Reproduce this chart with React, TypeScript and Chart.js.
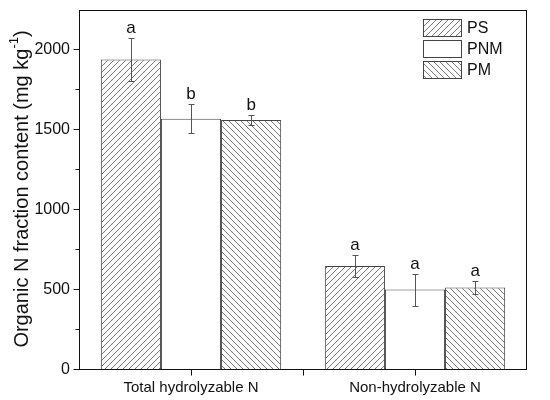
import React, { useEffect, useRef } from "react";
import { Chart, registerables } from "chart.js";
Chart.register(...registerables);

const categories = ["Total hydrolyzable N", "Non-hydrolyzable N"];
const seriesNames = ["PS", "PNM", "PM"];
const psValues = [1940, 650];
const pnmValues = [1570, 503];
const pmValues = [1563, 515];
const psErrors = [135, 70];
const pnmErrors = [90, 100];
const pmErrors = [32, 43];
const psLetters = ["a", "a"];
const pnmLetters = ["b", "a"];
const pmLetters = ["b", "a"];
const yMajorTicks = [0, 500, 1000, 1500, 2000];
const yMinorTicks = [250, 750, 1250, 1750];
const yMax = 2250;

const FONT = "'Liberation Sans', Arial, sans-serif";

function makeHatch(dir: "fwd" | "back" | "none") {
  const s = 6;
  const c = document.createElement("canvas");
  c.width = s;
  c.height = s;
  const g = c.getContext("2d")!;
  g.fillStyle = "#ffffff";
  g.fillRect(0, 0, s, s);
  if (dir !== "none") {
    g.strokeStyle = "#777777";
    g.lineWidth = 1;
    g.beginPath();
    if (dir === "fwd") {
      g.moveTo(-1, s + 1); g.lineTo(s + 1, -1);
      g.moveTo(-1, 1); g.lineTo(1, -1);
      g.moveTo(s - 1, s + 1); g.lineTo(s + 1, s - 1);
    } else {
      g.moveTo(-1, -1); g.lineTo(s + 1, s + 1);
      g.moveTo(s - 1, -1); g.lineTo(s + 1, 1);
      g.moveTo(-1, s - 1); g.lineTo(1, s + 1);
    }
    g.stroke();
  }
  return g.createPattern(c, "repeat")!;
}

function zeroPad(axis: any) {
  axis.paddingTop = 0;
  axis.paddingBottom = 0;
  axis.paddingLeft = 0;
  axis.paddingRight = 0;
}

export default function App() {
  const ref = useRef<HTMLCanvasElement>(null);
  useEffect(() => {
    document.body.style.margin = "0";
    const canvas = ref.current!;
    const values = [psValues, pnmValues, pmValues];
    const errors = [psErrors, pnmErrors, pmErrors];
    const letters = [psLetters, pnmLetters, pmLetters];
    const patterns = [makeHatch("fwd"), makeHatch("none"), makeHatch("back")];

    const customPlugin = {
      id: "custom",
      afterDatasetsDraw(chart: any) {
        const ctx: CanvasRenderingContext2D = chart.ctx;
        const { left, right, top, bottom } = chart.chartArea;
        const ys = chart.scales.y;
        const xs = chart.scales.x;
        ctx.save();
        // error bars + letters
        values.forEach((vals, di) => {
          const meta = chart.getDatasetMeta(di);
          meta.data.forEach((bar: any, i: number) => {
            const cx = Math.round(bar.x) + 0.5;
            const yt = Math.round(ys.getPixelForValue(vals[i] + errors[di][i])) + 0.5;
            const yb = Math.round(ys.getPixelForValue(vals[i] - errors[di][i])) + 0.5;
            ctx.strokeStyle = "#555";
            ctx.lineWidth = 1;
            ctx.beginPath();
            ctx.moveTo(cx, yt); ctx.lineTo(cx, yb);
            ctx.moveTo(cx - 3, yt); ctx.lineTo(cx + 3, yt);
            ctx.moveTo(cx - 3, yb); ctx.lineTo(cx + 3, yb);
            ctx.stroke();
            ctx.fillStyle = "#111";
            ctx.font = `17px ${FONT}`;
            ctx.textAlign = "center";
            ctx.textBaseline = "alphabetic";
            ctx.fillText(letters[di][i], bar.x, yt - 6);
          });
        });
        // frame
        ctx.strokeStyle = "#111";
        ctx.lineWidth = 1;
        const L = Math.round(left) + 0.5, R = Math.round(right) - 0.5;
        const T = Math.round(top) + 0.5, B = Math.round(bottom) - 0.5;
        ctx.strokeRect(L, T, R - L, B - T);
        // y ticks
        ctx.beginPath();
        yMajorTicks.forEach((v) => {
          const py = Math.round(ys.getPixelForValue(v)) - 0.5;
          ctx.moveTo(L - 6, py); ctx.lineTo(L, py);
        });
        yMinorTicks.forEach((v) => {
          const py = Math.round(ys.getPixelForValue(v)) - 0.5;
          ctx.moveTo(L - 4, py); ctx.lineTo(L, py);
        });
        // x ticks at category centers and boundary
        const n = categories.length;
        for (let i = 0; i < n; i++) {
          const px = Math.round(xs.getPixelForValue(i)) + 0.5;
          ctx.moveTo(px, B); ctx.lineTo(px, B + 6);
        }
        for (let i = 0; i < n - 1; i++) {
          const px = Math.round((xs.getPixelForValue(i) + xs.getPixelForValue(i + 1)) / 2) + 0.5;
          ctx.moveTo(px, B); ctx.lineTo(px, B + 6);
        }
        ctx.stroke();
        // legend
        seriesNames.forEach((name, di) => {
          const bx = 423, by = 19 + di * 21, bw = 38, bh = 17;
          ctx.fillStyle = patterns[di];
          ctx.fillRect(bx, by, bw, bh);
          ctx.strokeStyle = "#444";
          ctx.strokeRect(bx + 0.5, by + 0.5, bw, bh);
          ctx.fillStyle = "#111";
          ctx.font = `16px ${FONT}`;
          ctx.textAlign = "left";
          ctx.textBaseline = "middle";
          ctx.fillText(name, 467, by + bh / 2 + 1);
        });
        // y title
        ctx.translate(28, (top + bottom) / 2 - 1);
        ctx.rotate(-Math.PI / 2);
        ctx.textBaseline = "alphabetic";
        ctx.textAlign = "left";
        const main = "Organic N fraction content (mg kg";
        const sup = "-1";
        const end = ")";
        ctx.font = `20px ${FONT}`;
        const w1 = ctx.measureText(main).width;
        const w3 = ctx.measureText(end).width;
        ctx.font = `13px ${FONT}`;
        const w2 = ctx.measureText(sup).width;
        const total = w1 + w2 + w3;
        let u = -total / 2;
        ctx.fillStyle = "#111";
        ctx.font = `20px ${FONT}`;
        ctx.fillText(main, u, 0);
        u += w1;
        ctx.font = `13px ${FONT}`;
        ctx.fillText(sup, u, -10);
        u += w2;
        ctx.font = `20px ${FONT}`;
        ctx.fillText(end, u, 0);
        ctx.restore();
      },
    };

    const chart = new Chart(canvas, {
      type: "bar",
      data: {
        labels: categories,
        datasets: seriesNames.map((name, di) => ({
          label: name,
          data: values[di],
          backgroundColor: patterns[di],
          borderColor: "#444",
          borderWidth: 1,
          categoryPercentage: 0.805,
          barPercentage: 1,
        })),
      },
      options: {
        responsive: false,
        animation: false,
        devicePixelRatio: 1,
        layout: { autoPadding: false, padding: { left: 0, right: 23, top: 10, bottom: 0 } },
        plugins: { legend: { display: false }, tooltip: { enabled: false } },
        scales: {
          x: {
            grid: { display: false, drawTicks: false },
            border: { display: false },
            ticks: { color: "#111", font: { family: FONT, size: 15 }, padding: 9, maxRotation: 0 },
            afterFit: (axis: any) => { axis.height = 30; zeroPad(axis); },
          },
          y: {
            min: 0,
            max: yMax,
            grid: { display: false, drawTicks: false },
            border: { display: false },
            ticks: {
              color: "#111",
              font: { family: FONT, size: 16 },
              padding: 9,
              callback: (v: any) => String(v),
            },
            afterBuildTicks: (axis: any) => { axis.ticks = yMajorTicks.map((v) => ({ value: v })); },
            afterFit: (axis: any) => { axis.width = 79; zeroPad(axis); },
          },
        },
      },
      plugins: [customPlugin],
    });
    return () => chart.destroy();
  }, []);
  return (
    <div style={{ position: "fixed", left: 0, top: 0, width: 550, height: 400, background: "#fff" }}>
      <canvas ref={ref} width={550} height={400} />
    </div>
  );
}
